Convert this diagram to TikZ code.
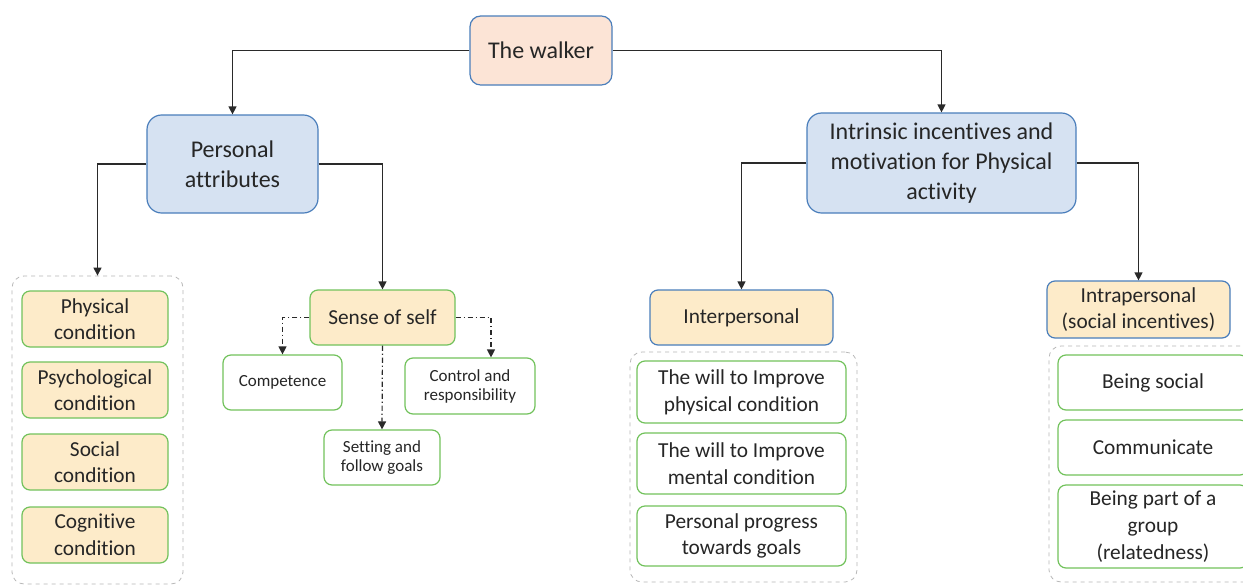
\documentclass[tikz,border=0pt]{standalone}
\usepackage{fontspec}
\setmainfont{Carlito}[Ligatures=NoCommon]
\usetikzlibrary{arrows.meta,calc}
\definecolor{peach}{HTML}{FCE4D6}
\definecolor{lblue}{HTML}{D6E2F2}
\definecolor{bborder}{HTML}{4A7EBB}
\definecolor{lyellow}{HTML}{FDEBC9}
\definecolor{gborder}{HTML}{72C25C}
\definecolor{gdash}{HTML}{B8B8B8}
\definecolor{txt}{HTML}{262626}
\definecolor{lne}{HTML}{2A2A2A}
\tikzset{
  box/.style={draw, line width=0.9pt, inner sep=0pt, align=center, text=txt},
  bigtxt/.style={font=\fontsize{18}{22.5}\selectfont},
  midtxt/.style={font=\fontsize{16}{20}\selectfont},
  smalltxt/.style={font=\fontsize{12.75}{14.25}\selectfont},
  toplvl/.style={box, draw=bborder, fill=lblue, rounded corners=11pt, bigtxt},
  walkerbox/.style={box, draw=bborder, fill=peach, rounded corners=8pt, bigtxt},
  yelgreen/.style={box, draw=gborder, fill=lyellow, rounded corners=6pt, midtxt},
  yelblue/.style={box, draw=bborder, fill=lyellow, rounded corners=6pt, midtxt},
  whitegreen/.style={box, draw=gborder, fill=white, rounded corners=6pt, midtxt},
  whitesmall/.style={box, draw=gborder, fill=white, rounded corners=6pt, smalltxt},
  grp/.style={draw=gdash, dashed, line width=0.6pt, rounded corners=9pt, inner sep=0pt},
  conn/.style={draw=lne, line width=0.9pt, -{Triangle[length=6pt,width=6pt]}},
  dconn/.style={draw=lne, line width=0.9pt, dash pattern=on 4pt off 2pt on 1pt off 2pt, -{Triangle[length=6pt,width=6pt]}},
}
\begin{document}
\begin{tikzpicture}[x=0.75pt,y=-0.75pt]
\clip (0,0) rectangle (1243,586);
\useasboundingbox (0,0) rectangle (1243,586);
\fill[white] (0,0) rectangle (1243,586);

% groups
\node[grp, minimum width=171*0.75pt, minimum height=308*0.75pt] (grpL) at (97.5,430) {};
\node[grp, minimum width=227*0.75pt, minimum height=230*0.75pt] (grpM) at (743.5,467) {};
\node[grp, minimum width=211*0.75pt, minimum height=236*0.75pt] (grpR) at (1154.5,464) {};

% top
\node[walkerbox, minimum width=142*0.75pt, minimum height=69*0.75pt] (walker) at (541,50.5) {The walker};
\node[toplvl, minimum width=171*0.75pt, minimum height=98*0.75pt] (pers) at (232.5,164) {Personal\\attributes};
\node[toplvl, minimum width=269*0.75pt, minimum height=100*0.75pt] (intr) at (941.5,163) {Intrinsic incentives and\\motivation for Physical\\activity};

% left column
\node[yelgreen, minimum width=146*0.75pt, minimum height=56*0.75pt] (phys) at (95,319) {Physical\\condition};
\node[yelgreen, minimum width=146*0.75pt, minimum height=56*0.75pt] (psych) at (95,390) {Psychological\\condition};
\node[yelgreen, minimum width=146*0.75pt, minimum height=56*0.75pt] (soc) at (95,462) {Social\\condition};
\node[yelgreen, minimum width=146*0.75pt, minimum height=56*0.75pt] (cog) at (95,535) {Cognitive\\condition};

% sense of self
\node[yelgreen, minimum width=145*0.75pt, minimum height=55*0.75pt] (sense) at (382.5,317.5) {Sense of self};
\node[whitesmall, minimum width=119*0.75pt, minimum height=55*0.75pt] (comp) at (282.5,382.5) {Competence};
\node[whitesmall, minimum width=130*0.75pt, minimum height=56*0.75pt] (ctrl) at (470,386) {Control and\\responsibility};
\node[whitesmall, minimum width=116*0.75pt, minimum height=55*0.75pt] (setg) at (382,457.5) {Setting and\\follow goals};

% interpersonal
\node[yelblue, minimum width=183*0.75pt, minimum height=55*0.75pt] (inter) at (741.5,317.5) {Interpersonal};
\node[whitegreen, minimum width=209*0.75pt, minimum height=62*0.75pt] (m1) at (741.5,392) {The will to Improve\\physical condition};
\node[whitegreen, minimum width=209*0.75pt, minimum height=61*0.75pt] (m2) at (741.5,463.5) {The will to Improve\\mental condition};
\node[whitegreen, minimum width=209*0.75pt, minimum height=60*0.75pt] (m3) at (741.5,536) {Personal progress\\towards goals};

% intrapersonal
\node[yelblue, minimum width=183*0.75pt, minimum height=57*0.75pt] (intra) at (1138.5,309.5) {Intrapersonal\\(social incentives)};
\node[whitegreen, minimum width=190*0.75pt, minimum height=55*0.75pt] (r1) at (1153,382.5) {Being social};
\node[whitegreen, minimum width=190*0.75pt, minimum height=55*0.75pt] (r2) at (1153,447.5) {Communicate};
\node[whitegreen, minimum width=190*0.75pt, minimum height=83*0.75pt] (r3) at (1153,526.5) {Being part of a\\group\\(relatedness)};

% connectors
\draw[conn] (walker.west) -| (pers.north);
\draw[conn] (walker.east) -| (intr.north);
\draw[conn] (pers.west) -| (grpL.north);
\draw[conn] (pers.east) -| (sense.north);
\draw[conn] (intr.west) -| (inter.north);
\draw[conn] (intr.east) -| (intra.north);
\draw[dconn] (sense.west) -| (comp.north);
\draw[dconn] (sense.south) -- (setg.north);
\coordinate (ctrltop) at ($(ctrl.north)+(21,0)$);
\draw[dconn] (sense.east) -| (ctrltop);
\end{tikzpicture}
\end{document}
